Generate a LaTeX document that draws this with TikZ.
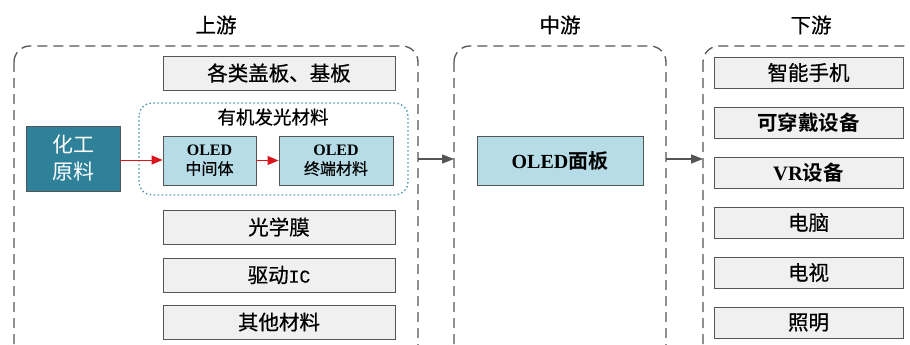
\documentclass[tikz,border=0pt]{standalone}
\usepackage{fontspec}
\setmainfont{Liberation Serif}
\newfontfamily\cjk{Noto Sans CJK SC}[UprightFeatures={FakeBold=0.6}]
\newfontfamily\cjkthin{Noto Sans CJK SC}
\newfontfamily\cjkb{Noto Sans CJK SC}[BoldFont={Noto Sans CJK SC Bold}]
\newfontfamily\monof{Liberation Mono}[UprightFeatures={FakeBold=0.6}]
\usetikzlibrary{arrows.meta}
\definecolor{darkteal}{HTML}{2F8199}
\definecolor{lightblue}{HTML}{B6DDE7}
\definecolor{greyfill}{HTML}{F0F0F0}
\definecolor{edge}{HTML}{555555}
\definecolor{dotteal}{HTML}{4F97AE}
\definecolor{redarrow}{HTML}{D9141B}
\tikzset{
  stagebox/.style={draw=edge, line width=1.3pt, dash pattern=on 10pt off 6pt, rounded corners=16pt},
  greybox/.style={draw=edge, fill=greyfill, line width=0.9pt, inner sep=0pt, font=\cjk\fontsize{20.5}{24}\selectfont},
  bluebox/.style={draw=edge, fill=lightblue, line width=0.9pt, inner sep=0pt, align=center, font=\fontsize{16}{19}\selectfont},
  title/.style={font=\cjk\fontsize{20.5}{24}\selectfont},
  redarr/.style={draw=redarrow, line width=0.9pt, -{Triangle[length=11pt,width=9pt]}},
  greyarr/.style={draw=edge, line width=1.3pt, -{Triangle[length=12pt,width=9pt]}},
}
\begin{document}
\begin{tikzpicture}[x=1pt,y=-1pt]
\useasboundingbox (0,0) rectangle (910,345);
\clip (0,0) rectangle (910,345);
% stage frames
\draw[stagebox] (14,46) rectangle (418,365);
\draw[stagebox] (454,46) rectangle (666,365);
\draw[stagebox] (703,46) rectangle (935,365);
\coordinate (upR) at (418,159);
\coordinate (midL) at (454,159);
\coordinate (midR) at (666,159);
\coordinate (downL) at (703,159);
% titles
\node[title] (t1) at (216,25) {上游};
\node[title] (t2) at (560,25) {中游};
\node[title] (t3) at (811,25) {下游};
% dotted group
\draw[draw=dotteal, line width=1.3pt, dash pattern=on 1.5pt off 2.5pt, rounded corners=13pt] (139,103) rectangle (408,195);
\node[font=\cjk\fontsize{18.5}{22}\selectfont] (grp) at (273,117) {有机发光材料};
% upstream boxes
\node[greybox, minimum width=232pt, minimum height=34pt] (b1) at (279,73) {各类盖板、基板};
\node[greybox, minimum width=232pt, minimum height=34pt] (b2) at (279,227) {光学膜};
\node[greybox, minimum width=232pt, minimum height=34pt] (b3) at (279,275) {驱动{\monof\fontsize{18}{22}\selectfont IC}};
\node[greybox, minimum width=232pt, minimum height=34pt] (b4) at (279,322) {其他材料};
\node[draw=edge, fill=darkteal, line width=0.9pt, minimum width=94pt, minimum height=65pt, inner sep=0pt, align=center, text=white, font=\cjkthin\fontsize{21}{27}\selectfont] (chem) at (73,158.5) {化工\\原料};
\node[bluebox, minimum width=93pt, minimum height=49pt] (mid) at (209.5,160.5) {{\bfseries OLED}\\{\cjk 中间体}};
\node[bluebox, minimum width=114pt, minimum height=49pt] (fin) at (336,160.5) {{\bfseries OLED}\\{\cjk 终端材料}};
\draw[redarr] (chem.east |- 0,160) -- (mid.west |- 0,160);
\draw[redarr] (mid.east) -- (fin.west);
% middle
\node[bluebox, minimum width=166pt, minimum height=49pt, font=\fontsize{20}{24}\selectfont] (panel) at (560,160.5) {{\bfseries OLED}{\cjkb\bfseries 面板}};
\draw[greyarr] (upR) -- (midL);
\draw[greyarr] (midR) -- (downL);
% downstream
\tikzset{dbox/.style={greybox, minimum width=189pt, minimum height=31pt}}
\node[dbox] (d1) at (808.5,72.5) {智能手机};
\node[dbox, font=\cjkb\bfseries\fontsize{20.5}{24}\selectfont] (d2) at (808.5,122.5) {可穿戴设备};
\node[dbox, font=\cjkb\bfseries\fontsize{20.5}{24}\selectfont] (d3) at (808.5,172.5) {{\rmfamily\bfseries VR}设备};
\node[dbox] (d4) at (808.5,222.5) {电脑};
\node[dbox] (d5) at (808.5,272.5) {电视};
\node[dbox] (d6) at (808.5,322.5) {照明};
\end{tikzpicture}
\end{document}
